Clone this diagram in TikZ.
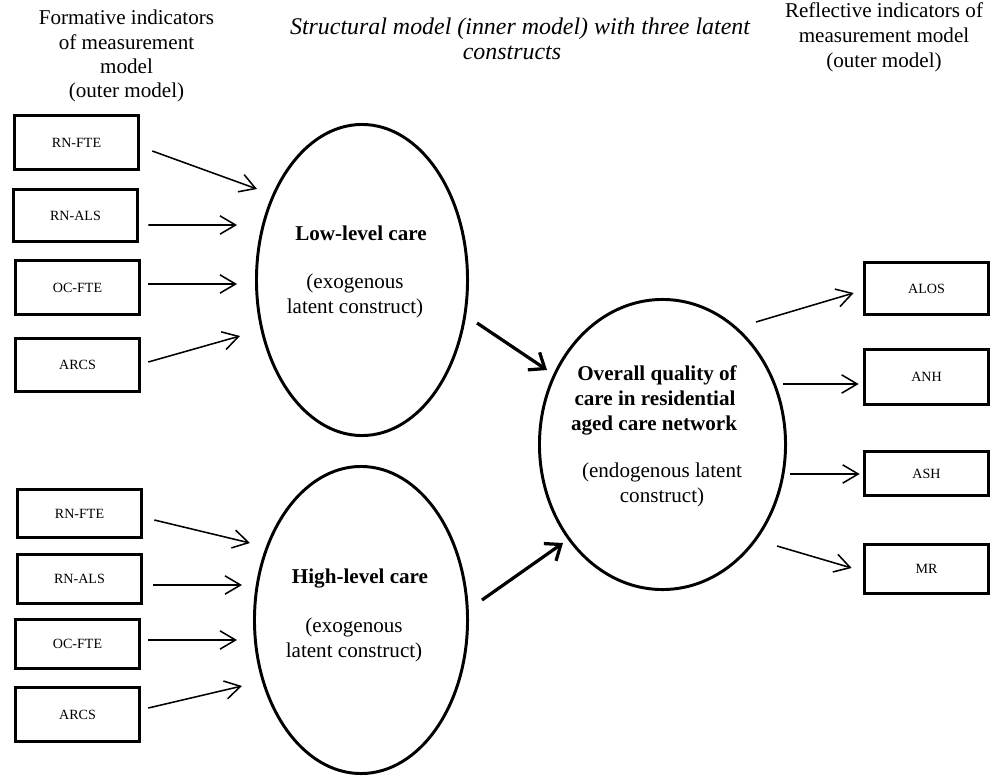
\documentclass[tikz,border=0pt]{standalone}
\usepackage{fontspec}
\setmainfont{Liberation Serif}
\usetikzlibrary{shapes.geometric,arrows.meta,calc}
\begin{document}
\begin{tikzpicture}[x=0.025cm,y=-0.025cm,
  ind/.style={draw,line width=2.35pt,minimum width=3.09cm,minimum height=1.32cm,inner sep=0pt,outer sep=0pt,font=\fontsize{10}{12}\selectfont},
  latent/.style={draw,ellipse,line width=2.1pt,inner sep=0pt,outer sep=0pt},
  lbl/.style={anchor=base,inner sep=0pt,font=\fontsize{15}{18}\selectfont},
  blbl/.style={lbl,font=\fontsize{15}{18}\selectfont\bfseries},
  hdr/.style={anchor=base,inner sep=0pt,font=\fontsize{15}{18}\selectfont},
  ihdr/.style={anchor=base,inner sep=0pt,font=\fontsize{17}{19}\selectfont\itshape},
  thin/.style={line width=1.1pt,-{Straight Barb[length=11pt,width=13pt]}},
  thick/.style={line width=2.3pt,-{Straight Barb[length=9.5pt,width=15pt]}}]
\useasboundingbox (0,0) rectangle (992,781);
% headers
\node[hdr] (hl1) at (126.5,25) {Formative indicators};
\node[hdr] (hl2) at (126.5,50) {of measurement};
\node[hdr] (hl3) at (126.5,74) {model};
\node[hdr] (hl4) at (126.5,98) {(outer model)};
\node[ihdr] (hm1) at (520,35) {Structural model (inner model) with three latent};
\node[ihdr] (hm2) at (512,60) {constructs};
\node[hdr] (hr1) at (884,18) {Reflective indicators of};
\node[hdr] (hr2) at (884,43) {measurement model};
\node[hdr] (hr3) at (884,68) {(outer model)};
% latent constructs
\node[latent,minimum width=5.275cm,minimum height=7.775cm] (low) at (362,280) {};
\node[latent,minimum width=5.325cm,minimum height=7.675cm] (high) at (361,620) {};
\node[latent,minimum width=6.15cm,minimum height=7.25cm] (qual) at (662.5,444.5) {};
\node[blbl] (lowt) at (361,240) {Low-level care};
\node[lbl] (lowa) at (355,288) {(exogenous};
\node[lbl] (lowb) at (355,313) {latent construct)};
\node[blbl] (hight) at (360,583) {High-level care};
\node[lbl] (higha) at (354,632) {(exogenous};
\node[lbl] (highb) at (354,657) {latent construct)};
\node[blbl] (q1) at (657,380) {Overall quality of};
\node[blbl] (q2) at (655,405) {care in residential};
\node[blbl] (q3) at (654,430) {aged care network};
\node[lbl] (q4) at (662,477) {(endogenous latent};
\node[lbl] (q5) at (662,502) {construct)};
% formative indicators (low)
\node[ind,minimum height=1.34cm] (b1) at (76.5,142.5) {RN-FTE};
\node[ind,minimum height=1.29cm] (b2) at (75.5,215.5) {RN-ALS};
\node[ind,minimum height=1.34cm] (b3) at (77.5,287.5) {OC-FTE};
\node[ind,minimum height=1.32cm] (b4) at (77.5,365) {ARCS};
% formative indicators (high)
\node[ind,minimum height=1.19cm] (c1) at (79.5,513.5) {RN-FTE};
\node[ind,minimum height=1.22cm] (c2) at (79.5,579) {RN-ALS};
\node[ind,minimum height=1.22cm] (c3) at (77.5,644) {OC-FTE};
\node[ind,minimum height=1.34cm] (c4) at (77.5,714.5) {ARCS};
% reflective indicators
\node[ind,minimum height=1.29cm] (r1) at (926.5,288.5) {ALOS};
\node[ind,minimum height=1.37cm] (r2) at (926.5,377) {ANH};
\node[ind,minimum height=1.09cm] (r3) at (926.5,473.5) {ASH};
\node[ind,minimum height=1.22cm] (r4) at (926.5,569) {MR};
% arrows formative -> low
\draw[thin] ($(b1.east)+(14,8.5)$) -- ($(low)+(-105,-91)$);
\draw[thin] ($(b2.east)+(11,9.5)$) -- ($(low)+(-125,-55)$);
\draw[thin] ($(b3.east)+(9,-3.5)$) -- ($(low)+(-125,4)$);
\draw[thin] ($(b4.east)+(9,-3)$) -- ($(low)+(-122,56)$);
% arrows formative -> high
\draw[thin] ($(c1.east)+(13,6.5)$) -- ($(high)+(-111,-77)$);
\draw[thin] ($(c2.east)+(12,6)$) -- ($(high)+(-119,-35)$);
\draw[thin] ($(c3.east)+(9,-4)$) -- ($(high)+(-124,20)$);
\draw[thin] ($(c4.east)+(9,-6.5)$) -- ($(high)+(-119,66)$);
% structural arrows
\draw[thick] ($(low)+(115,43)$) -- ($(qual)+(-115.5,-74.5)$);
\draw[thick] ($(high)+(121,-20)$) -- ($(qual)+(-99.5,98.5)$);
% reflective arrows
\draw[thin] ($(qual)+(93.5,-122.5)$) -- ($(r1.west)+(-11,4.5)$);
\draw[thin] ($(qual)+(120.5,-60.5)$) -- ($(r2.west)+(-6,7)$);
\draw[thin] ($(qual)+(127.5,29.5)$) -- ($(r3.west)+(-5,0.5)$);
\draw[thin] ($(qual)+(114.5,101.5)$) -- ($(r4.west)+(-13,-1)$);
\end{tikzpicture}
\end{document}
